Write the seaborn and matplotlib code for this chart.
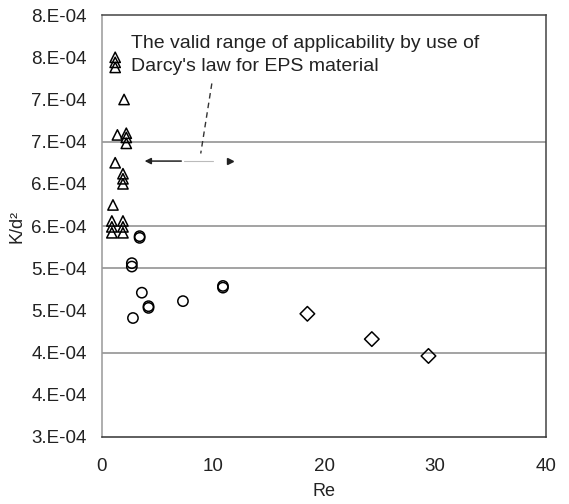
import numpy as np
import pandas as pd
import matplotlib
matplotlib.use("Agg")
import matplotlib.pyplot as plt
import seaborn as sns

# data
tri_re = [1.2, 1.2, 1.2, 2.0, 1.4, 2.2, 2.2, 2.2, 1.2, 1.9, 1.9, 1.9, 1.0, 0.9, 0.9, 0.9, 1.9, 1.9, 1.9]
tri_k = [0.000750, 0.000744, 0.000738, 0.000700, 0.000658, 0.000660, 0.000655, 0.000648,
         0.000625, 0.000612, 0.000606, 0.000600, 0.000575, 0.000556, 0.000549, 0.000542,
         0.000556, 0.000549, 0.000542]
circ_re = [3.4, 3.4, 2.7, 2.7, 3.6, 4.2, 4.2, 2.8, 7.3, 10.9, 10.9]
circ_k = [0.000538, 0.000536, 0.000506, 0.000502, 0.000471, 0.000455, 0.000453, 0.000441,
          0.000461, 0.000479, 0.000477]
dia_re = [18.5, 24.3, 29.4]
dia_k = [0.000446, 0.000416, 0.000396]

y_ticks = [0.0003, 0.00035, 0.0004, 0.00045, 0.0005, 0.00055, 0.0006, 0.00065, 0.0007, 0.00075, 0.0008]
y_ticklabels = ["3.E-04", "4.E-04", "4.E-04", "5.E-04", "5.E-04", "6.E-04", "6.E-04",
                "7.E-04", "7.E-04", "8.E-04", "8.E-04"]
grid_levels = [0.00065, 0.00055, 0.0005, 0.0004]
x_ticks = [0, 10, 20, 30, 40]
x_minor = [2, 6, 8, 12, 14, 18, 22, 24, 28, 30, 34, 38]

note = "The valid range of applicability by use of\nDarcy's law for EPS material"

df = pd.DataFrame({
    "Re": tri_re + circ_re + dia_re,
    "K": tri_k + circ_k + dia_k,
    "group": ["tri"] * len(tri_re) + ["circ"] * len(circ_re) + ["dia"] * len(dia_re),
})

sns.set_style("white")
plt.rcParams["font.family"] = ["Liberation Sans", "DejaVu Sans"]

fig = plt.figure(figsize=(5.69, 5.04), dpi=100)
ax = fig.add_axes([0.179, 0.133, 0.781, 0.837])

for lev in grid_levels:
    ax.axhline(lev, color="#8a8a8a", lw=1.1, zorder=1)

sns.scatterplot(data=df, x="Re", y="K", style="group",
                markers={"tri": "^", "circ": "o", "dia": "D"},
                facecolor="none", edgecolor="black", linewidth=1.1,
                s=55, legend=False, ax=ax, zorder=3)

# annotation
ax.text(2.6, 0.000753, note, fontsize=14, va="center", ha="left",
        linespacing=1.5, color="#222222")
ax.plot([9.9, 8.9], [0.000719, 0.000636], ls=(0, (4, 3)), color="#333333", lw=1)
ax.annotate("", xy=(3.6, 0.000627), xytext=(7.4, 0.000627),
            arrowprops=dict(arrowstyle="-|>", color="#222222", lw=1.1,
                            mutation_scale=9))
ax.plot([7.4, 10.0], [0.000627, 0.000627], color="#bbbbbb", lw=0.8)
ax.plot([11.5], [0.000627], marker=">", color="#222222", ms=5)

ax.set_xlim(0, 40)
ax.set_ylim(0.0003, 0.0008)
ax.set_xticks(x_ticks)
ax.set_xticks(x_minor, minor=True)
ax.set_yticks(y_ticks)
ax.set_yticklabels(y_ticklabels)
ax.set_yticks([0.0003, 0.0004, 0.0005, 0.00055, 0.00065, 0.0008], minor=True)

ax.tick_params(axis="x", which="major", length=0, pad=15, labelsize=13.5, colors="#222222")
ax.tick_params(axis="x", which="minor", direction="in", length=4, color="#555555")
ax.tick_params(axis="y", which="major", length=0, pad=11, labelsize=13.5, colors="#222222")
ax.tick_params(axis="y", which="minor", direction="out", length=5, color="#777777",
               labelleft=False)

ax.set_xlabel("Re", fontsize=13, labelpad=6, color="#222222")
ax.set_ylabel("K/d²", fontsize=13, labelpad=0, color="#222222")
ax.yaxis.set_label_coords(-0.172, 0.5)

for side, col in [("left", "#999999"), ("bottom", "#333333"), ("right", "#444444"), ("top", "#444444")]:
    ax.spines[side].set_visible(True)
    ax.spines[side].set_color(col)
    ax.spines[side].set_linewidth(1.1)

fig.savefig("out.png", dpi=100, facecolor="white")
